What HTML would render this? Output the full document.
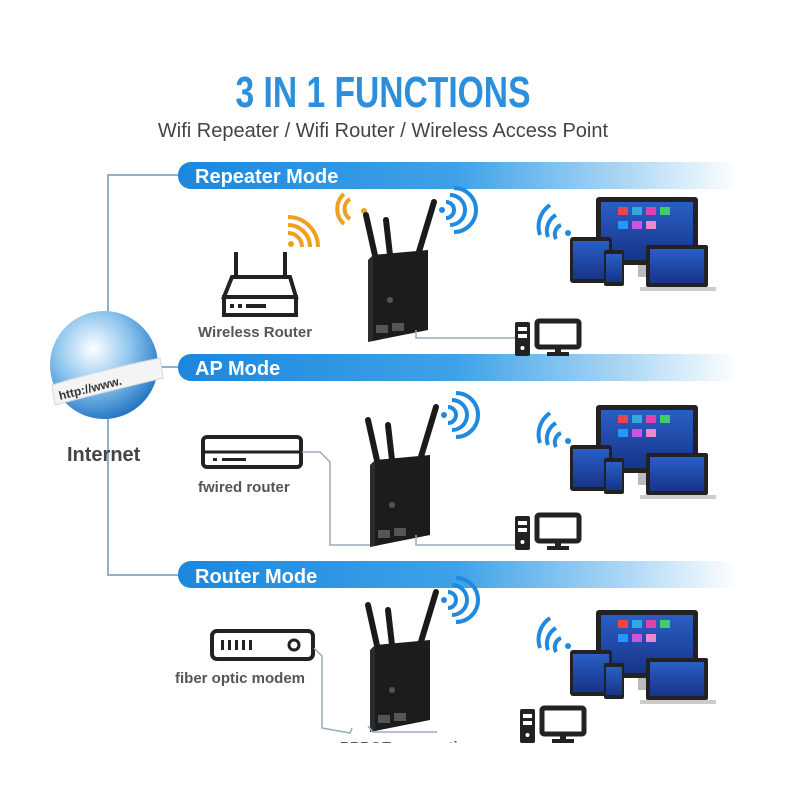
<!DOCTYPE html>
<html><head><meta charset="utf-8"><style>
html,body{margin:0;padding:0;background:#fff;}
svg{display:block;}
text{font-family:"Liberation Sans",sans-serif;}
</style></head><body>
<svg width="800" height="800" viewBox="0 0 800 800" xmlns="http://www.w3.org/2000/svg">
<defs>
<linearGradient id="bar" x1="0" x2="1" y1="0" y2="0">
<stop offset="0" stop-color="#1b87dd"/><stop offset="0.5" stop-color="#3fa2e8"/><stop offset="0.82" stop-color="#b5dbf6"/><stop offset="1" stop-color="#ffffff"/></linearGradient>
<radialGradient id="globe" cx="0.4" cy="0.35" r="0.7"><stop offset="0" stop-color="#ffffff"/><stop offset="0.5" stop-color="#8cc4ee"/><stop offset="1" stop-color="#1a6fc0"/></radialGradient>
<linearGradient id="scr" x1="0" x2="0" y1="0" y2="1"><stop offset="0" stop-color="#2b5fc4"/><stop offset="1" stop-color="#16348a"/></linearGradient>
<g id="ext">
 <line x1="8" y1="10" x2="-2" y2="-35" stroke="#1a1a1a" stroke-width="6" stroke-linecap="round"/>
 <line x1="22" y1="5" x2="18" y2="-30" stroke="#1a1a1a" stroke-width="6" stroke-linecap="round"/>
 <line x1="50" y1="5" x2="66" y2="-48" stroke="#1a1a1a" stroke-width="6" stroke-linecap="round"/>
 <path d="M5 5 L60 0 L60 80 L0 92 Z" fill="#1c1c1c"/>
 <path d="M0 10 L5 5 L5 90 L0 92 Z" fill="#2b2b2b"/>
 <rect x="8" y="75" width="12" height="8" fill="#555"/><rect x="24" y="73" width="12" height="8" fill="#555"/>
 <circle cx="22" cy="50" r="3" fill="#555"/>
 <circle cx="74" cy="-40" r="3" fill="#1f8ae0"/>
 <path d="M78 -48 a8 8 0 0 1 0 16 M82 -55 a15 15 0 0 1 0 30 M86 -62 a22 22 0 0 1 0 44" stroke="#1f8ae0" stroke-width="4" fill="none"/>
</g>
<g id="dev">
 <path d="M0 40 a18 18 0 0 1 8 -22 M8 42 a10 10 0 0 1 5 -14 M-8 38 a26 26 0 0 1 10 -30" stroke="#1f8ae0" stroke-width="4" fill="none"/>
 <circle cx="20" cy="36" r="3" fill="#1f8ae0"/>
 <rect x="48" y="0" width="102" height="68" rx="3" fill="#222"/>
 <rect x="53" y="5" width="92" height="58" fill="url(#scr)"/>
 <rect x="90" y="68" width="20" height="12" fill="#bbb"/>
 <rect x="70" y="10" width="10" height="8" fill="#e44"/><rect x="84" y="10" width="10" height="8" fill="#3ad"/><rect x="98" y="10" width="10" height="8" fill="#d4a"/><rect x="112" y="10" width="10" height="8" fill="#4c6"/>
 <rect x="70" y="24" width="10" height="8" fill="#29f"/><rect x="84" y="24" width="10" height="8" fill="#c5d"/><rect x="98" y="24" width="10" height="8" fill="#e8c"/>
 <rect x="98" y="48" width="62" height="42" rx="2" fill="#222"/>
 <rect x="102" y="52" width="54" height="34" fill="url(#scr)"/>
 <rect x="92" y="90" width="76" height="4" fill="#ccc"/>
 <rect x="22" y="40" width="42" height="46" rx="3" fill="#222"/>
 <rect x="25" y="44" width="36" height="38" fill="url(#scr)"/>
 <rect x="56" y="53" width="20" height="36" rx="2" fill="#222"/>
 <rect x="58" y="57" width="16" height="28" fill="url(#scr)"/>
</g>
<g id="pc">
 <rect x="0" y="4" width="15" height="34" rx="2" fill="#222"/>
 <rect x="3" y="9" width="9" height="4" fill="#fff"/><rect x="3" y="16" width="9" height="4" fill="#fff"/><circle cx="7.5" cy="30" r="2" fill="#fff"/>
 <rect x="22" y="3" width="42" height="26" rx="2" fill="none" stroke="#222" stroke-width="5"/>
 <rect x="40" y="29" width="6" height="6" fill="#222"/><rect x="32" y="34" width="22" height="4" fill="#222"/>
</g>
</defs>

<text x="383" y="107" text-anchor="middle" font-size="44" font-weight="bold" fill="#2b8fdc" textLength="295" lengthAdjust="spacingAndGlyphs">3 IN 1 FUNCTIONS</text>
<text x="383" y="137" text-anchor="middle" font-size="20" fill="#444">Wifi Repeater / Wifi Router / Wireless Access Point</text>

<polyline points="180,175 108,175 108,575 180,575" fill="none" stroke="#8fb0c8" stroke-width="2"/>
<line x1="108" y1="367" x2="180" y2="367" stroke="#8fb0c8" stroke-width="2"/>

<rect x="178" y="162" width="560" height="27" rx="13" fill="url(#bar)"/>
<text x="195" y="183" font-size="20" font-weight="bold" fill="#fff">Repeater Mode</text>
<rect x="178" y="354" width="560" height="27" rx="13" fill="url(#bar)"/>
<text x="195" y="375" font-size="20" font-weight="bold" fill="#fff">AP Mode</text>
<rect x="178" y="561" width="560" height="27" rx="13" fill="url(#bar)"/>
<text x="195" y="583" font-size="20" font-weight="bold" fill="#fff">Router Mode</text>

<circle cx="104" cy="365" r="54" fill="url(#globe)"/>
<path d="M52 385 Q100 370 160 358 L163 378 Q105 392 55 405 Z" fill="#f4f4f4" stroke="#cfd8e0"/>
<text x="60" y="400" font-size="12" font-weight="bold" fill="#333" transform="rotate(-14 60 400)">http://www.</text>
<text x="67" y="461" font-size="20" font-weight="bold" fill="#444">Internet</text>

<!-- section 1 -->
<path d="M288 228 a14 14 0 0 1 14 14 M288 220 a22 22 0 0 1 22 22 M288 212 a30 30 0 0 1 30 30" stroke="#f0a020" stroke-width="4" fill="none" transform="translate(0,5)"/>
<circle cx="291" cy="244" r="3" fill="#f0a020"/>
<path d="M350 199 a12 12 0 0 0 0 20 M344 194 a20 20 0 0 0 0 30" stroke="#f0a020" stroke-width="4" fill="none"/>
<circle cx="364" cy="211" r="3" fill="#f0a020"/>
<line x1="236" y1="252" x2="236" y2="278" stroke="#222" stroke-width="4"/>
<line x1="285" y1="252" x2="285" y2="278" stroke="#222" stroke-width="4"/>
<path d="M232 277 L290 277 L296 297 L224 297 Z" fill="none" stroke="#222" stroke-width="4"/>
<rect x="224" y="297" width="72" height="18" fill="none" stroke="#222" stroke-width="4"/>
<rect x="230" y="304" width="4" height="4" fill="#222"/><rect x="238" y="304" width="4" height="4" fill="#222"/><rect x="246" y="304" width="20" height="4" fill="#222"/>
<text x="198" y="337" font-size="15" font-weight="bold" fill="#555">Wireless Router</text>
<use href="#ext" x="368" y="250"/>
<polyline points="416,330 416,338 515,338" fill="none" stroke="#9ab" stroke-width="1.5"/>
<use href="#dev" x="548" y="197"/>
<use href="#pc" x="515" y="318"/>

<!-- section 2 -->
<rect x="203" y="437" width="98" height="30" rx="4" fill="none" stroke="#222" stroke-width="4"/>
<line x1="205" y1="452" x2="299" y2="452" stroke="#222" stroke-width="3"/>
<rect x="213" y="458" width="4" height="3" fill="#222"/><rect x="222" y="458" width="24" height="3" fill="#222"/>
<text x="198" y="492" font-size="15" font-weight="bold" fill="#555">fwired router</text>
<polyline points="302,452 320,452 330,462 330,545 378,545" fill="none" stroke="#9ab" stroke-width="1.5"/>
<use href="#ext" x="370" y="455"/>
<polyline points="416,535 416,545 515,545" fill="none" stroke="#9ab" stroke-width="1.5"/>
<use href="#dev" x="548" y="405"/>
<use href="#pc" x="515" y="512"/>

<!-- section 3 -->
<rect x="212" y="631" width="101" height="28" rx="5" fill="none" stroke="#222" stroke-width="4"/>
<rect x="221" y="640" width="3" height="10" fill="#222"/><rect x="228" y="640" width="3" height="10" fill="#222"/><rect x="235" y="640" width="3" height="10" fill="#222"/><rect x="242" y="640" width="3" height="10" fill="#222"/><rect x="249" y="640" width="3" height="10" fill="#222"/>
<circle cx="294" cy="645" r="5" fill="none" stroke="#222" stroke-width="3"/>
<text x="175" y="683" font-size="15" font-weight="bold" fill="#555">fiber optic modem</text>
<polyline points="314,648 322,656 322,728 350,733 352,728" fill="none" stroke="#9ab" stroke-width="1.5"/>
<use href="#ext" x="370" y="640"/>
<polyline points="368,726 373,732 437,732" fill="none" stroke="#9ab" stroke-width="1.5"/>
<use href="#dev" x="548" y="610"/>
<use href="#pc" x="520" y="705"/>
<text x="340" y="752" font-size="15" font-weight="bold" fill="#555">PPPOE connection</text>
<rect x="0" y="743" width="800" height="57" fill="#fff"/>
</svg>
</body></html>
